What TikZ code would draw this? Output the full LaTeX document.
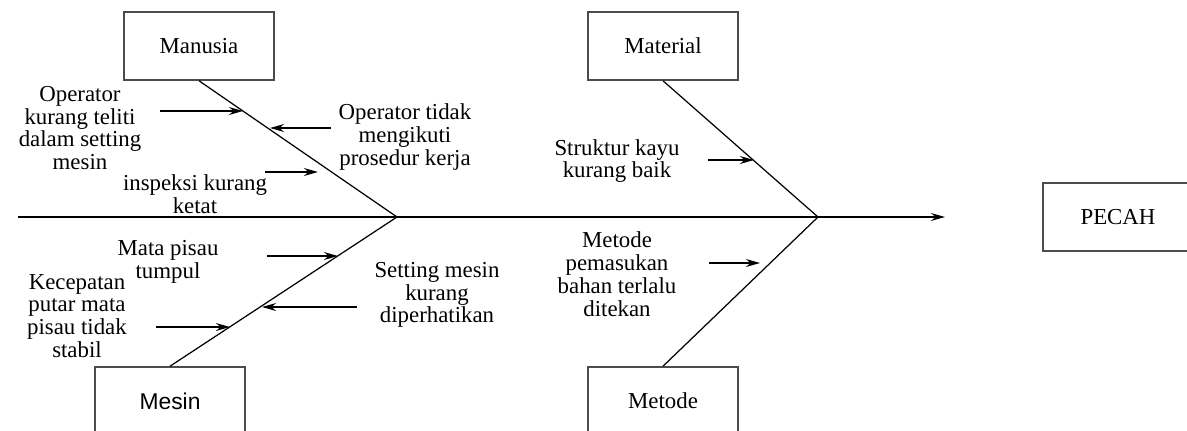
\documentclass[tikz,border=0pt]{standalone}
\usepackage{fontspec}
\setmainfont{Liberation Serif}
\newfontfamily\mesinfont{Liberation Sans}
\usetikzlibrary{arrows.meta,positioning}
\tikzset{
    bone/.style={draw, line width=0.7pt}, % the spine and the four bones
    catbox/.style={draw=black!70, line width=0.9pt, minimum width=3cm,
                   minimum height=1.36cm, font=\fontsize{13}{13}\selectfont}, % category boxes
    cause/.style={align=center, font=\fontsize{13}{13}\selectfont}, % cause texts
    causearrow/.style={line width=0.7pt, -{Stealth[length=8pt,width=4.5pt]}},
}

\begin{document}
\begin{tikzpicture}[x=0.02cm, y=-0.02cm]
  % one unit is one pixel of the sketch
  \clip (0,0) rectangle (1187,430);

  % the spine
  \coordinate (tail)  at (18,217);
  \coordinate (head1) at (397,217);
  \coordinate (head2) at (818,217);
  \coordinate (tip)   at (945,217);

  % categories
  \node[catbox] (man) at (199,46)  {Manusia};
  \node[catbox] (mat) at (663,46)  {Material};
  \node[catbox, font=\fontsize{13}{13}\mesinfont] (mes) at (170,401) {Mesin};
  \node[catbox] (met) at (663,401) {Metode};
  \node[catbox] (pecah) at (1118,217) {PECAH};

  \path[bone]
    (tail) edge (head1)
    (head1) edge (head2)
    (man.south) edge (head1)
    (mes.north) edge (head1)
    (mat.south) edge (head2)
    (met.north) edge (head2);
  \draw[causearrow] (head2) -- (tip);

  % causes, Manusia
  \node[cause] (c1) at (80,128)  {Operator\\kurang teliti\\dalam setting\\mesin};
  \node[cause] (c2) at (405,137) {Operator tidak\\mengikuti\\prosedur kerja};
  \node[cause] (c3) at (195,194) {inspeksi kurang\\ketat};
  % causes, Mesin
  \node[cause] (c4) at (168,262) {Mata pisau\\tumpul};
  \node[cause] (c5) at (77,316)  {Kecepatan\\putar mata\\pisau tidak\\stabil};
  \node[cause] (c6) at (437,295) {Setting mesin\\kurang\\diperhatikan};
  % causes, Material and Metode
  \node[cause] (c7) at (617,161) {Struktur kayu\\kurang baik};
  \node[cause] (c8) at (617,274) {Metode\\pemasukan\\bahan terlalu\\ditekan};

  \coordinate (a1) at (160,111); \coordinate (b1) at (243,111);
  \coordinate (a2) at (331,128); \coordinate (b2) at (270,128);
  \coordinate (a3) at (265,172); \coordinate (b3) at (318,172);
  \coordinate (a4) at (267,256); \coordinate (b4) at (338,256);
  \coordinate (a5) at (156,327); \coordinate (b5) at (230,327);
  \coordinate (a6) at (357,307); \coordinate (b6) at (262,307);
  \coordinate (a7) at (708,160); \coordinate (b7) at (754,160);
  \coordinate (a8) at (709,263); \coordinate (b8) at (760,263);
  \foreach \i in {1,...,8}
    \draw[causearrow] (a\i) -- (b\i);
\end{tikzpicture}
\end{document}
